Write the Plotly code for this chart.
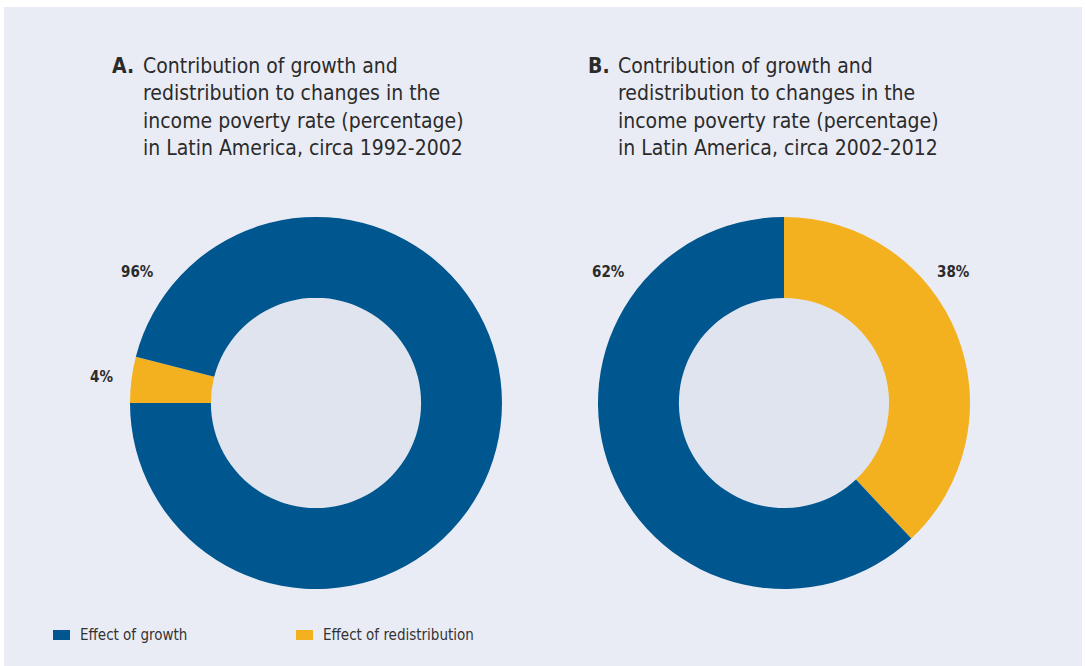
import plotly.graph_objects as go

# ---- data ----
labels = ["Effect of growth", "Effect of redistribution"]
values_a = [96, 4]
values_b = [62, 38]
colors = ["#00568f", "#f3b01f"]
title_a_letter = "A."
title_a = "Contribution of growth and<br>redistribution to changes in the<br>income poverty rate (percentage)<br>in Latin America, circa 1992-2002"
title_b_letter = "B."
title_b = "Contribution of growth and<br>redistribution to changes in the<br>income poverty rate (percentage)<br>in Latin America, circa 2002-2012"

W, H = 1086, 666
FONT = "Liberation Sans Narrow, DejaVu Sans Condensed, Roboto Condensed, Arial Narrow, sans-serif"
BG = "#eaecf5"
HOLE_BG = "#e0e4ef"
HOLE = 0.565

def px_x(x):
    return x / W

def px_y(y):
    return 1 - y / H

dom_a = dict(x=[px_x(130), px_x(502)], y=[px_y(589), px_y(217)])
dom_b = dict(x=[px_x(598), px_x(970)], y=[px_y(589), px_y(217)])

fig = go.Figure()
# slices drawn clockwise, redistribution first
fig.add_trace(go.Pie(labels=labels[::-1], values=values_a[::-1], hole=HOLE, sort=False,
                     direction="clockwise", rotation=270,
                     marker=dict(colors=colors[::-1], line=dict(width=0)),
                     textinfo="none", hoverinfo="label+percent",
                     domain=dom_a, showlegend=False))
fig.add_trace(go.Pie(labels=labels[::-1], values=values_b[::-1], hole=HOLE, sort=False,
                     direction="clockwise", rotation=0,
                     marker=dict(colors=colors[::-1], line=dict(width=0)),
                     textinfo="none", hoverinfo="label+percent",
                     domain=dom_b, showlegend=False))

shapes = [
    dict(type="rect", xref="paper", yref="paper", x0=px_x(4), x1=px_x(1082),
         y0=0, y1=px_y(7), fillcolor=BG, line=dict(width=0), layer="below"),
]
# hole fill circles
for dom in (dom_a, dom_b):
    cx = (dom["x"][0] + dom["x"][1]) / 2
    cy = (dom["y"][0] + dom["y"][1]) / 2
    rx = (dom["x"][1] - dom["x"][0]) / 2 * HOLE
    ry = (dom["y"][1] - dom["y"][0]) / 2 * HOLE
    shapes.append(dict(type="circle", xref="paper", yref="paper",
                       x0=cx - rx, x1=cx + rx, y0=cy - ry, y1=cy + ry,
                       fillcolor=HOLE_BG, line=dict(width=0), layer="below"))

# legend swatches
leg_x = [53, 296]
for i, lab in enumerate(labels):
    shapes.append(dict(type="rect", xref="paper", yref="paper",
                       x0=px_x(leg_x[i]), x1=px_x(leg_x[i] + 17),
                       y0=px_y(640), y1=px_y(630),
                       fillcolor=colors[i], line=dict(width=0)))

annotations = []
for i, lab in enumerate(labels):
    annotations.append(dict(xref="paper", yref="paper", x=px_x(leg_x[i] + 25), y=px_y(635),
                            text=lab, showarrow=False, xanchor="left", yanchor="middle",
                            font=dict(family=FONT, size=15, color="#333333")))

title_font = dict(family=FONT, size=21, color="#2b2b2b")
for letter, txt, xl, xt in ((title_a_letter, title_a, 110, 141), (title_b_letter, title_b, 586, 616)):
    annotations.append(dict(xref="paper", yref="paper", x=px_x(xl), y=px_y(52),
                            text="<b>" + letter + "</b>", showarrow=False,
                            xanchor="left", yanchor="top", font=title_font))
    annotations.append(dict(xref="paper", yref="paper", x=px_x(xt), y=px_y(52),
                            text=txt, showarrow=False, align="left",
                            xanchor="left", yanchor="top", font=title_font))

# slice value labels
pct_pos = [((137, 272), values_a[0]), ((101, 377), values_a[1]),
           ((608, 272), values_b[0]), ((953, 272), values_b[1])]
for (x, y), v in pct_pos:
    annotations.append(dict(xref="paper", yref="paper", x=px_x(x), y=px_y(y),
                            text="<b>%d%%</b>" % v, showarrow=False,
                            xanchor="center", yanchor="middle",
                            font=dict(family=FONT, size=15, color="#2b2b2b")))

fig.update_layout(width=W, height=H, margin=dict(l=0, r=0, t=0, b=0),
                  paper_bgcolor="white", plot_bgcolor="white",
                  shapes=shapes, annotations=annotations)
fig.write_html("out.html")
